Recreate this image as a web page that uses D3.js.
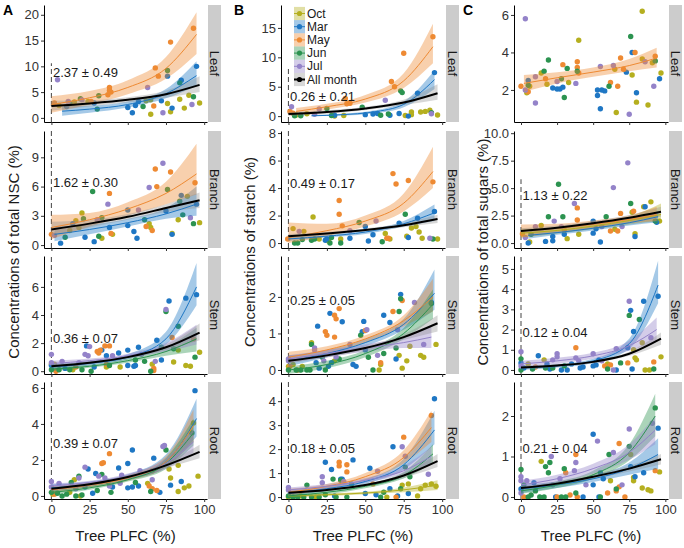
<!DOCTYPE html>
<html><head><meta charset="utf-8">
<script src="https://cdn.jsdelivr.net/npm/d3@7"></script>
<style>body{margin:0;background:#fff;} svg{display:block;font-family:"Liberation Sans",Arial,sans-serif;}</style>
</head><body><svg id="c" width="684" height="548"></svg>
<script>
// ---------------- DATA ----------------
const months = ["Oct","Mar","May","Jun","Jul"];
const allLabel = "All month";
const organs = ["Leaf","Branch","Stem","Root"];
const panelLetters = ["A","B","C"];
const yTitles = ["Concentrations of total NSC (%)","Concentrations of starch (%)","Concentrations of total sugars (%)"];
const xTitle = "Tree PLFC (%)";
const xTicks = [0,25,50,75,100];
const yTicksA = [[0,5,10,15,20],[0,3,6,9],[0,2,4,6],[0,2,4,6]];
const yTicksB = [[0,5,10,15],[0,2,4,6,8],[0,1,2],[0,1,2,3,4]];
const yTicksC = [[2,4,6],[0,2.5,5,7.5,10],[0,1,2,3,4,5],[0,1,2]];
const annotA = ["2.37 ± 0.49","1.62 ± 0.30","0.36 ± 0.07","0.39 ± 0.07"];
const annotB = ["0.26 ± 0.21","0.49 ± 0.17","0.25 ± 0.05","0.18 ± 0.05"];
const annotC = [null,"1.13 ± 0.22","0.12 ± 0.04","0.21 ± 0.04"];

// points: month -> flat [x,y,x,y,...]
const ptsA_Leaf = {
 Oct:[5,2.4,15,3.1,24,3.2,62,3.3,65,3.5,65,0.7,76,2.8,78,1.2,84,3.6,87,1.9,90,4.4,97,2.9],
 Mar:[10,2.2,28,2.9,50,2.0,53,1.0,55,2.4,57,3.2,72,3.3,76,8.1,79,1.9,85,7.3,95,10.0],
 May:[2,2.9,26,3.2,38,5.9,38,5.3,39,5.0,37,4.5,67,2.3,68,9.7,70,8.1,78,14.7,93,17.4],
 Jun:[19,3.7,12,2.8,30,1.7,31,4.3,60,2.2,76,9.2,84,6.8,93,4.1],
 Jul:[4,7.4,11,3.2,20,3.5,63,5.9,73,1.0,92,2.6]
};
const ptsA_Branch = {
 Oct:[12,1.5,16,2.5,20,3.3,18,1.8,33,0.7,40,1.1,64,2.2,65,1.8,79,1.2,83,2.6,89,5.0,97,2.3],
 Mar:[6,0.2,14,2.2,22,0.8,28,0.35,38,1.8,50,2.0,50,3.6,54,1.4,56,0.7,75,3.5,79,1.1,85,5.1,95,4.2],
 May:[0,1.1,38,5.3,39,1.2,62,1.9,66,1.5,68,7.8,69,6.0,78,7.5,94,6.4],
 Jun:[9,0.8,21,2.7,27,5.5,31,0.9,33,2.8,61,2.6,76,5.7,84,4.5,86,3.1,93,2.2],
 Jul:[2,1.0,30,2.6,37,4.2,57,3.6,64,5.9,73,8.4,91,2.8]
};
const ptsA_Stem = {
 Oct:[0,0.5,2,0.5,14,0.1,36,0.3,45,0.3,66,0.5,80,0.65,83,1.5,88,0.4,91,0.35,97,1.35],
 Mar:[0,0.4,9,0.2,23,1.8,28,0.3,33,1.5,36,1.1,44,1.3,50,1.5,50,0.4,54,0.35,55,0.4,57,1.7,69,2.2,72,0.8,77,5.0,88,5.2,95,5.45],
 May:[3,0.0,16,0.3,30,1.4,31,1.3,32,1.5,35,1.8,38,1.8,36,0.5,67,0.2,67,0.05,79,2.4,93,2.3],
 Jun:[0,0.1,5,0.1,12,0.1,20,0.1,26,0.0,38,0.4,55,0.8,61,0.7,65,0.0,72,1.7,75,4.25,80,1.6,83,3.2,94,1.0],
 Jul:[0,1.2,0,0.6,7,0.7,18,0.6,22,1.2,24,1.1,25,1.75,40,1.1,59,1.2,68,0.7,75,4.4]
};
const ptsA_Root = {
 Oct:[1,0.1,12,0.2,15,0.9,19,0.0,63,0.7,66,1.4,78,1.0,77,1.5,83,1.7,83,0.25,87,0.45,90,0.55,96,1.1,93,4.05],
 Mar:[22,0.5,24,1.5,27,0.15,29,1.25,40,0.5,44,1.55,50,1.8,50,0.45,53,2.55,53,0.5,57,0.55,67,2.1,71,0.2,78,0.6,85,0.8,94,5.85],
 May:[2,0.1,33,1.8,34,1.85,38,2.35,64,0.55,66,0.4,69,0.3],
 Jun:[0,0.2,4,0.15,7,0.0,10,0.1,13,0.75,16,0.0,18,1.1,20,0.05,30,0.3,33,1.2,37,0.8,39,0.2,55,0.75,65,0.25,75,2.55,92,3.5],
 Jul:[0,0.8,0,0.5,5,0.7,16,0.4,18,1.0,22,1.6,31,1.1,35,1.0,38,0.55,45,0.7,46,1.15,58,1.4,66,0.9,73,2.75,74,2.8]
};
const ptsB_Leaf = {
 Oct:[5,0.2,12,0.4,30,0.0,36,0.1,76,0.1,80,0.7,80,0.25,86,0.7,89,0.8,92,1.0,97,0.2],
 Mar:[8,0.2,30,0.15,50,0.25,55,0.35,58,0.45,66,0.15,72,0.45,78,0.0,84,3.9,95,7.4],
 May:[1,0.8,3,0.5,37,3.0,38,2.1,40,2.2,67,5.9,69,5.0,75,10.7,94,13.5],
 Jun:[4,0.05,8,0.05,25,1.3,28,0.1,48,1.5,60,0.15,65,0.35,73,4.3,74,4.0,93,0.6],
 Jul:[2,1.6,17,0.3,20,1.2,63,2.7,93,0.4]
};
const ptsB_Branch = {
 Oct:[3,1.05,10,0.85,16,1.9,20,0.3,26,0.15,34,0.3,63,0.7,66,0.3,77,0.5,80,1.1,83,1.2,85,0.8,87,0.35,97,0.3],
 Mar:[24,0.2,25,0.3,40,0.35,50,1.2,52,0.15,55,0.6,72,1.45,78,0.4,84,1.8,95,2.3],
 May:[-0.5,0.3,33,3.1,33,2.1,35,1.25,64,0.35,65,0.35,68,5.05,70,4.3,78,4.55,94,4.45],
 Jun:[4,0.0,6,0.0,9,0.25,15,0.2,17,0.3,27,0.0,28,0.4,34,0.0,46,1.5,61,0.1,76,2.1,94,0.3],
 Jul:[7,0.85,40,0.9,57,1.6,92,0.35]
};
const ptsB_Stem = {
 Oct:[0,0.1,3,0.15,9,0.1,15,0.75,30,0.25,59,0.0,60,0.15,72,0.4,74,0.05,77,0.25,79,0.65,86,0.4,88,0.35,96,0.7],
 Mar:[18,0.2,20,0.05,19,1.2,26,0.1,27,1.55,28,0.2,35,1.32,42,0.15,44,0.1,48,1.05,49,1.33,50,0.55,62,1.5,66,1.3,70,0.3,73,2.07,93,1.85],
 May:[1,0.1,6,0.0,24,1.05,25,0.95,30,1.5,31,1.4,33,1.68,30,0.9,50,1.08,60,0.2,68,1.6,74,1.9],
 Jun:[0,0.0,5,0.0,8,0.0,12,0.0,14,0.0,15,0.7,22,0.35,24,0.0,33,0.3,47,0.95,52,0.35,55,0.0,62,0.45,70,0.6,72,1.6,73,1.95,93,1.82],
 Jul:[0,0.3,0,0.25,17,0.55,17,0.6,23,0.25,31,0.35,40,0.7,51,1.1,58,0.4,71,1.1,82,1.85,88,0.7]
};
const ptsB_Root = {
 Oct:[0,0.0,8,0.05,18,0.0,64,0.0,74,0.5,78,0.55,84,0.05,86,0.35,89,0.5,93,0.55,96,0.45],
 Mar:[24,1.45,28,1.15,30,0.05,34,0.75,35,0.75,42,1.55,50,0.15,53,1.2,57,0.1,66,0.35,68,2.1,71,0.05,78,0.15,95,4.1],
 May:[33,1.45,33,1.3,38,1.35,38,1.05,55,0.55,70,0.0,75,2.5,93,3.4],
 Jun:[0,0.05,3,0.0,6,0.0,10,0.0,12,0.5,15,0.0,20,0.0,24,0.1,29,0.75,31,0.0,34,0.7,38,0.0,41,0.55,60,0.0,62,0.2,73,0.35,76,1.25,79,0.85],
 Jul:[0,0.4,0,0.3,22,0.85,22,0.6,36,0.65,58,1.08,74,2.1,76,1.7,91,0.95]
};
const ptsC_Leaf = {
 Oct:[4,1.85,6,2.2,14,2.9,18,2.3,33,2.4,40,4.65,65,3.1,66,0.8,77,2.8,80,1.35,84,6.2,84,3.65,88,1.2,91,3.45,97,2.9],
 Mar:[5,2.5,22,2.1,25,2.05,27,2.05,29,2.15,53,2.0,53,1.7,55,1.0,56,2.0,58,1.95,73,2.95,77,4.0,80,1.85,96,2.6],
 May:[0,2.2,5,1.9,17,2.6,29,3.35,39,3.5,39,3.2,40,2.9,62,2.4,67,2.2,69,3.7,71,3.1,79,4.0,93,3.8],
 Jun:[5,2.25,16,3.0,19,3.6,28,2.6,30,1.6,32,3.15,39,3.0,61,2.2,76,4.85,93,3.55],
 Jul:[3,5.8,3,2.0,10,1.3,10,2.7,25,2.45,38,2.35,55,3.25,64,3.3,75,0.7,86,3.5,92,2.2]
};
const ptsC_Branch = {
 Oct:[6,0.1,14,1.6,32,0.4,40,0.8,65,1.25,77,2.8,79,0.85,85,3.3,90,3.75,96,2.0],
 Mar:[5,0.0,17,0.15,22,0.6,22,0.2,30,0.8,50,2.0,50,0.9,52,1.3,55,0.1,79,0.6,86,3.3,94,1.9],
 May:[1,0.85,30,1.2,39,3.2,39,2.1,62,1.1,67,1.1,69,2.7,78,2.9],
 Jun:[7,0.8,19,2.4,26,5.35,29,2.4,59,2.4,76,3.6,93,2.0],
 Jul:[3,0.5,10,1.5,23,2.0,28,1.5,37,3.6,56,1.5,64,5.05,70,1.5,74,7.3]
};
const ptsC_Stem = {
 Oct:[5,0.3,16,0.5,60,0.3,78,1.0,79,0.6,80,0.5,84,1.35,86,0.0,89,0.0,97,0.65],
 Mar:[0,0.35,2,0.1,12,0.7,18,0.3,20,0.05,28,0.0,32,0.0,35,0.3,41,0.1,43,0.15,50,0.2,52,0.25,54,0.5,66,0.0,74,1.1,76,2.95,77,0.05,78,1.9,85,3.4,95,3.65],
 May:[10,0.15,38,1.1,58,0.2,62,0.25,74,0.35,92,0.4],
 Jun:[0,0.55,0,0.0,8,0.05,17,0.1,22,0.1,30,0.2,60,0.05,69,0.35,75,2.7,82,2.5,92,0.05],
 Jul:[0,0.9,0,0.2,22,0.5,25,0.8,25,0.65,38,0.6,40,0.45,50,0.8,56,0.45,64,0.0,66,1.05,75,3.4,90,1.6]
};
const ptsC_Root = {
 Oct:[14,0.88,62,0.4,76,1.05,78,0.4,78,0.48,84,0.22,88,0.18,90,0.15,96,0.62],
 Mar:[0,0.2,9,0.35,24,0.0,43,0.0,50,1.55,50,0.3,54,0.0,55,0.6,57,0.45,76,0.75,79,0.5,85,0.6,95,1.7],
 May:[2,0.0,25,0.0,31,0.6,34,0.05,38,1.05,39,0.0,60,0.1,66,0.15,68,0.25,68,1.32,72,0.0,93,0.65],
 Jun:[0,0.68,2,0.3,5,0.0,7,0.05,10,0.15,13,0.0,16,0.0,17,0.75,19,0.6,20,0.85,28,0.0,30,0.7,31,0.0,38,0.1,55,0.0,61,1.05,66,0.2,75,1.25,93,2.2],
 Jul:[0,0.5,0,0.4,0,0.1,4,0.4,21,1.0,22,0.3,27,0.45,37,0.65,38,0.85,45,0.3,53,1.38,64,1.1,70,0.3,75,1.68,91,1.82]
};

// fitted curves: m, x, fit, lower, upper
const F = (m,x,y,lo,hi)=>({m,x,y,lo,hi});
const fitA_Leaf = [
 F("Mar",[7,25,50,75,95],[1.3,1.7,2.6,4.7,8.2],[0.4,1.0,2.0,3.8,6.2],[2.3,2.4,3.2,5.6,11]),
 F("May",[0,25,50,75,95],[2.6,3.9,5.9,9.6,16.2],[1.0,2.6,4.6,7.6,12.4],[4.2,5.2,7.3,11.8,20.5]),
 F("All",[0,25,50,75,97],[2.3,2.8,3.5,4.6,6.4],[1.4,2.2,3.0,3.9,5.0],[3.3,3.4,4.0,5.3,8.1])
];
const fitA_Branch = [
 F("Mar",[2,25,50,75,95],[1.1,1.6,2.3,3.2,4.2],[0.4,1.1,1.9,2.7,3.0],[1.9,2.1,2.7,3.8,6.0]),
 F("May",[0,25,50,75,95],[1.8,2.6,3.7,5.3,7.3],[0.6,1.9,3.0,4.2,5.2],[3.1,3.3,4.4,6.5,10.4]),
 F("All",[0,25,50,75,97],[1.6,2.2,2.9,3.8,4.6],[0.9,1.8,2.6,3.4,3.8],[2.4,2.6,3.2,4.2,5.4])
];
const fitA_Stem = [
 F("Mar",[0,25,50,75,95],[0.3,0.55,1.0,2.3,6.0],[0.1,0.4,0.85,1.9,4.7],[0.5,0.7,1.2,2.8,7.7]),
 F("Jun",[0,25,50,75,95],[0.15,0.35,0.75,1.4,2.3],[0.0,0.25,0.6,1.1,1.4],[0.3,0.45,0.9,1.7,3.1]),
 F("Jul",[0,25,50,75,95],[0.55,0.75,1.1,1.7,2.6],[0.35,0.6,0.95,1.4,1.9],[0.75,0.9,1.25,2.0,3.3]),
 F("All",[0,25,50,75,97],[0.35,0.6,1.0,1.7,2.75],[0.2,0.5,0.9,1.5,2.2],[0.5,0.7,1.1,1.9,3.4])
];
const fitA_Root = [
 F("Mar",[0,25,50,75,95],[0.45,0.65,1.05,1.9,4.3],[0.25,0.5,0.9,1.6,3.3],[0.65,0.8,1.2,2.3,5.4]),
 F("May",[0,25,50,75,93],[0.35,0.6,1.0,1.9,3.9],[0.15,0.45,0.85,1.6,3.0],[0.55,0.75,1.15,2.2,4.8]),
 F("Jun",[0,25,50,75,93],[0.2,0.45,0.9,1.8,3.5],[0.1,0.35,0.8,1.5,2.8],[0.3,0.55,1.0,2.1,4.3]),
 F("Jul",[0,25,50,75,93],[0.55,0.75,1.1,1.8,3.0],[0.4,0.65,0.95,1.5,2.4],[0.7,0.85,1.25,2.1,3.7]),
 F("All",[0,25,50,75,97],[0.4,0.65,1.05,1.7,2.45],[0.3,0.55,0.95,1.55,2.1],[0.5,0.75,1.15,1.85,2.85])
];
const fitB_Leaf = [
 F("Mar",[15,35,55,75,95],[0.05,0.25,0.7,2.0,6.2],[0.0,0.1,0.45,1.5,4.6],[0.2,0.4,0.95,2.5,7.8]),
 F("May",[5,25,50,75,94],[0.8,1.6,2.9,6.0,11.8],[0.2,1.1,2.3,4.8,9.0],[1.4,2.1,3.6,7.3,15.7]),
 F("All",[0,25,50,75,97],[0.35,0.7,1.3,2.3,3.9],[0.0,0.4,1.0,1.9,2.8],[0.7,1.0,1.6,2.8,5.4])
];
const fitB_Branch = [
 F("Mar",[0,25,50,75,95],[0.3,0.5,0.8,1.4,2.2],[0.15,0.4,0.65,1.2,1.6],[0.45,0.6,0.95,1.6,2.8]),
 F("May",[0,25,50,75,94],[0.4,0.9,1.6,2.9,5.2],[0.0,0.5,1.2,2.3,4.0],[1.5,1.4,2.0,3.6,7.0]),
 F("All",[0,25,50,75,97],[0.5,0.7,0.95,1.3,1.75],[0.35,0.6,0.85,1.15,1.45],[0.65,0.8,1.05,1.45,2.05])
];
const fitB_Stem = [
 F("Mar",[0,25,50,75,95],[0.25,0.45,0.75,1.25,2.1],[0.1,0.35,0.65,1.1,1.65],[0.4,0.55,0.85,1.4,2.75]),
 F("May",[0,25,50,75,94],[0.35,0.55,0.85,1.35,2.0],[0.2,0.45,0.75,1.2,1.6],[0.5,0.65,0.95,1.5,2.5]),
 F("Jun",[0,25,50,75,94],[0.0,0.15,0.45,1.0,1.8],[-0.1,0.05,0.35,0.85,1.4],[0.1,0.25,0.55,1.15,2.2]),
 F("Jul",[0,25,50,75,93],[0.3,0.45,0.6,0.75,0.9],[0.2,0.35,0.5,0.6,0.6],[0.4,0.55,0.7,0.9,1.2]),
 F("All",[0,25,50,75,97],[0.25,0.4,0.6,0.9,1.28],[0.18,0.34,0.54,0.82,1.05],[0.32,0.46,0.66,0.98,1.5])
];
const fitB_Root = [
 F("Oct",[0,25,50,75,97],[0.05,0.1,0.17,0.3,0.5],[0.0,0.05,0.12,0.2,0.3],[0.1,0.15,0.22,0.4,0.7]),
 F("Mar",[0,25,50,75,95],[0.15,0.35,0.65,1.35,2.8],[0.05,0.25,0.55,1.15,2.2],[0.25,0.45,0.75,1.6,3.6]),
 F("May",[0,25,50,75,93],[0.2,0.45,0.85,1.65,2.9],[0.05,0.35,0.7,1.4,2.3],[0.35,0.55,1.0,1.95,3.6]),
 F("Jun",[0,25,50,75,94],[0.05,0.2,0.45,0.9,1.8],[0.0,0.12,0.37,0.78,1.4],[0.12,0.28,0.53,1.05,2.2]),
 F("Jul",[0,25,50,75,93],[0.3,0.45,0.7,1.1,1.7],[0.2,0.35,0.6,0.95,1.35],[0.4,0.55,0.8,1.3,2.1]),
 F("All",[0,25,50,75,97],[0.18,0.3,0.5,0.9,1.5],[0.13,0.25,0.45,0.8,1.25],[0.23,0.35,0.55,1.0,1.8])
];
const fitC_Leaf = [
 F("May",[2,25,50,75,94],[2.35,2.65,2.95,3.3,3.7],[1.9,2.35,2.7,3.0,3.2],[2.8,2.95,3.2,3.65,4.25])
];
const fitC_Branch = [
 F("Oct",[0,25,50,75,97],[0.9,1.15,1.55,2.05,2.6],[0.5,0.85,1.25,1.7,2.0],[1.3,1.45,1.85,2.4,3.6]),
 F("Mar",[5,25,50,75,95],[0.7,0.95,1.35,1.85,2.4],[0.4,0.75,1.15,1.6,1.9],[1.0,1.15,1.55,2.1,2.9]),
 F("May",[0,25,50,75,94],[1.1,1.35,1.7,2.15,2.6],[0.5,0.95,1.35,1.8,2.0],[1.7,1.75,2.05,2.5,3.3]),
 F("All",[0,25,50,75,97],[1.1,1.4,1.8,2.3,2.85],[0.85,1.2,1.6,2.05,2.4],[1.35,1.6,2.0,2.55,3.3])
];
const fitC_Stem = [
 F("Mar",[0,25,50,75,95],[0.1,0.2,0.45,1.3,4.2],[0.0,0.12,0.35,1.05,3.3],[0.2,0.28,0.55,1.55,5.4]),
 F("Jul",[0,25,50,75,94],[0.3,0.45,0.7,1.2,2.0],[0.15,0.3,0.55,0.95,1.4],[0.45,0.6,0.85,1.45,2.6]),
 F("All",[0,25,50,75,97],[0.12,0.22,0.4,0.8,1.55],[0.05,0.15,0.33,0.7,1.25],[0.19,0.29,0.47,0.9,1.85])
];
const fitC_Root = [
 F("Mar",[0,25,50,75,95],[0.2,0.3,0.45,0.7,1.05],[0.1,0.22,0.37,0.55,0.7],[0.3,0.38,0.53,0.85,1.45]),
 F("Jun",[0,25,50,75,93],[0.15,0.3,0.55,1.1,2.0],[0.08,0.22,0.45,0.9,1.5],[0.22,0.38,0.65,1.3,2.55]),
 F("Jul",[0,25,50,75,93],[0.3,0.45,0.7,1.1,1.65],[0.2,0.35,0.58,0.92,1.3],[0.4,0.55,0.82,1.3,2.0]),
 F("All",[0,25,50,75,97],[0.22,0.33,0.5,0.7,0.93],[0.17,0.28,0.44,0.63,0.8],[0.27,0.38,0.56,0.77,1.06])
];

// ---------------- LAYOUT / STYLE ----------------
const colors = {Oct:"#B5AF1F",Mar:"#1F77C4",May:"#EE8A33",Jun:"#2C9350",Jul:"#9483C9",All:"#000000"};
const bandFill = {Oct:"#B5AF1F",Mar:"#1F77C4",May:"#EE8A33",Jun:"#2C9350",Jul:"#9483C9",All:"#8c8c8c"};
const cols = [
 {left:44,right:207,yTitleX:13,letterX:3},
 {left:281,right:445,yTitleX:249,letterX:234},
 {left:514,right:668,yTitleX:482,letterX:463}
];
const rows = [{top:5,bottom:122},{top:131,bottom:248},{top:256,bottom:374},{top:382,bottom:499}];
const stripW = 13;
const xDom = [-4.85,101.85];

const panels = [
 {c:0,r:0,pts:ptsA_Leaf,fits:fitA_Leaf,yDom:[-0.8,21.9],ticks:yTicksA[0],ann:annotA[0],annY:8.8,dash:10.6},
 {c:0,r:1,pts:ptsA_Branch,fits:fitA_Branch,yDom:[-0.3,11.7],ticks:yTicksA[1],ann:annotA[1],annY:6.4,dash:null},
 {c:0,r:2,pts:ptsA_Stem,fits:fitA_Stem,yDom:[-0.2,8.2],ticks:yTicksA[2],ann:annotA[2],annY:2.3,dash:null},
 {c:0,r:3,pts:ptsA_Root,fits:fitA_Root,yDom:[-0.17,6.33],ticks:yTicksA[3],ann:annotA[3],annY:2.9,dash:null},
 {c:1,r:0,pts:ptsB_Leaf,fits:fitB_Leaf,yDom:[-1.0,18.9],ticks:yTicksB[0],ann:annotB[0],annY:3.3,dash:8.3,legend:true},
 {c:1,r:1,pts:ptsB_Branch,fits:fitB_Branch,yDom:[-0.36,8.15],ticks:yTicksB[1],ann:annotB[1],annY:4.36,dash:null},
 {c:1,r:2,pts:ptsB_Stem,fits:fitB_Stem,yDom:[-0.11,3.12],ticks:yTicksB[2],ann:annotB[2],annY:1.91,dash:null},
 {c:1,r:3,pts:ptsB_Root,fits:fitB_Root,yDom:[-0.08,4.8],ticks:yTicksB[3],ann:annotB[3],annY:2.02,dash:null},
 {c:2,r:0,pts:ptsC_Leaf,fits:fitC_Leaf,yDom:[0.29,6.53],ticks:yTicksC[0],ann:annotC[0],annY:0,dash:undefined},
 {c:2,r:1,pts:ptsC_Branch,fits:fitC_Branch,yDom:[-0.45,10.2],ticks:yTicksC[1],ann:annotC[1],annY:4.3,dash:5.8,fmt:".1f"},
 {c:2,r:2,pts:ptsC_Stem,fits:fitC_Stem,yDom:[-0.2,5.64],ticks:yTicksC[2],ann:annotC[2],annY:1.86,dash:null},
 {c:2,r:3,pts:ptsC_Root,fits:fitC_Root,yDom:[-0.05,2.84],ticks:yTicksC[3],ann:annotC[3],annY:1.19,dash:null}
];

const svg = d3.select("#c");
const defs = svg.append("defs");

panels.forEach((p,i)=>{
  const C = cols[p.c], R = rows[p.r];
  const x = d3.scaleLinear().domain(xDom).range([C.left,C.right]);
  const y = d3.scaleLinear().domain(p.yDom).range([R.bottom,R.top]);
  const cid = "clip"+i;
  defs.append("clipPath").attr("id",cid).append("rect")
    .attr("x",C.left).attr("y",R.top).attr("width",C.right-C.left).attr("height",R.bottom-R.top);
  const g = svg.append("g");
  const inner = g.append("g").attr("clip-path",`url(#${cid})`);

  if (p.dash !== undefined) {
    inner.append("line").attr("x1",x(0)).attr("x2",x(0))
      .attr("y1",R.bottom).attr("y2",p.dash===null?R.top:y(p.dash))
      .attr("stroke","#555").attr("stroke-width",1.1).attr("stroke-dasharray","5,3");
  }
  // points
  months.forEach(m=>{
    const arr = p.pts[m]||[];
    const d = d3.range(0,arr.length,2).map(k=>[arr[k],arr[k+1]]);
    inner.selectAll(null).data(d).enter().append("circle")
      .attr("cx",v=>x(v[0])).attr("cy",v=>y(v[1])).attr("r",2.7)
      .attr("fill",colors[m]);
  });
  // bands
  const area = d3.area().curve(d3.curveMonotoneX).x(d=>x(d.x)).y0(d=>y(d.lo)).y1(d=>y(d.hi));
  const line = d3.line().curve(d3.curveMonotoneX).x(d=>x(d.x)).y(d=>y(d.y));
  const rowsOf = f=>f.x.map((xx,k)=>({x:xx,y:f.y[k],lo:f.lo[k],hi:f.hi[k]}));
  p.fits.forEach(f=>{
    inner.append("path").attr("d",area(rowsOf(f))).attr("fill",bandFill[f.m])
      .attr("fill-opacity",f.m==="All"?0.35:0.4);
  });
  p.fits.forEach(f=>{
    inner.append("path").attr("d",line(rowsOf(f))).attr("fill","none")
      .attr("stroke",colors[f.m]).attr("stroke-width",f.m==="All"?2:1);
  });
  // axes
  const fmt = p.fmt?d3.format(p.fmt):d3.format("d");
  const ya = g.append("g").attr("transform",`translate(${C.left},0)`)
    .call(d3.axisLeft(y).tickValues(p.ticks).tickFormat(fmt).tickSize(3).tickSizeOuter(0).tickPadding(2));
  const xa = g.append("g").attr("transform",`translate(0,${R.bottom})`)
    .call(d3.axisBottom(x).tickValues(xTicks).tickSize(3).tickSizeOuter(0).tickPadding(3)
      .tickFormat(p.r===3?d3.format("d"):()=>""));
  [ya,xa].forEach(a=>{
    a.select(".domain").attr("stroke","#000").attr("stroke-width",1);
    a.selectAll(".tick line").attr("stroke","#333");
    a.selectAll(".tick text").attr("fill","#333").style("font-size","13px")
      .style("font-family","'Liberation Sans',Arial,sans-serif");
  });
  // strip
  g.append("rect").attr("x",C.right+1).attr("y",R.top).attr("width",stripW).attr("height",R.bottom-R.top)
    .attr("fill","#CCCCCC");
  g.append("text").attr("transform",`translate(${C.right+1+stripW/2},${(R.top+R.bottom)/2}) rotate(90)`)
    .attr("text-anchor","middle").attr("dominant-baseline","central")
    .style("font-size","13px").attr("fill","#1a1a1a").text(organs[p.r]);
  // annotation
  if (p.ann) {
    g.append("text").attr("x",x(0)+1.5).attr("y",y(p.annY)).attr("dominant-baseline","central")
      .style("font-size","13px").attr("fill","#1a1a1a").text(p.ann);
  }
  // legend
  if (p.legend) {
    const keys = months.concat(["All"]);
    const lg = g.append("g");
    keys.forEach((k,j)=>{
      const cy = 13.5 + j*13.2, kx = 294;
      lg.append("rect").attr("x",kx).attr("y",cy-6.6).attr("width",11).attr("height",13.2)
        .attr("fill",bandFill[k]).attr("fill-opacity",k==="All"?0.35:0.4);
      lg.append("line").attr("x1",kx).attr("x2",kx+11).attr("y1",cy).attr("y2",cy)
        .attr("stroke",colors[k]).attr("stroke-width",k==="All"?2:1);
      lg.append("circle").attr("cx",kx+5.5).attr("cy",cy).attr("r",2.6).attr("fill",colors[k]);
      lg.append("text").attr("x",kx+13).attr("y",cy).attr("dominant-baseline","central")
        .style("font-size","12px").attr("fill","#1a1a1a").text(k==="All"?allLabel:k);
    });
  }
});

// column titles / letters
cols.forEach((C,j)=>{
  svg.append("text").attr("transform",`translate(${C.yTitleX},252) rotate(-90)`)
    .attr("text-anchor","middle").attr("dominant-baseline","central")
    .style("font-size","15px").attr("fill","#1a1a1a").text(yTitles[j]);
  svg.append("text").attr("x",(C.left+C.right)/2).attr("y",541).attr("text-anchor","middle")
    .style("font-size","15px").attr("fill","#1a1a1a").text(xTitle);
  svg.append("text").attr("x",C.letterX).attr("y",15).style("font-size","14px")
    .style("font-weight","bold").attr("fill","#000").text(panelLetters[j]);
});
</script></body></html>
